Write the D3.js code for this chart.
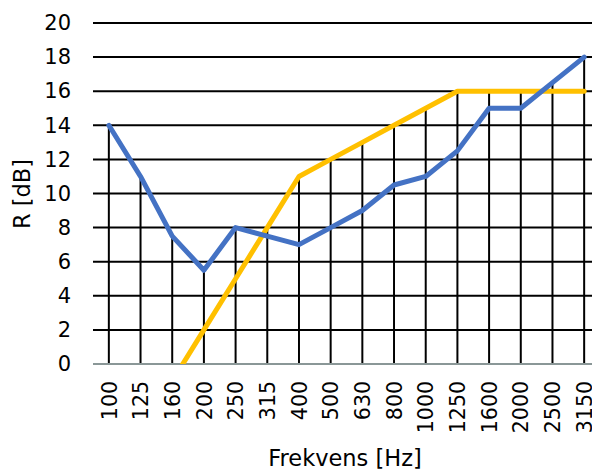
<!DOCTYPE html>
<html>
<head>
<meta charset="utf-8">
<script src="https://cdn.jsdelivr.net/npm/d3@7"></script>
<style>
  body { margin: 0; background: #fff; }
  text { font-family: "DejaVu Sans", Verdana, sans-serif; fill: #000; }
</style>
</head>
<body>
<script>
let freqs = ["100","125","160","200","250","315","400","500","630","800","1000","1250","1600","2000","2500","3150"]
let measured = [14, 11, 7.5, 5.5, 8, 7.5, 7, 8, 9, 10.5, 11, 12.5, 15, 15, 16.5, 18]
let reference = [null, null, -1, 2, 5, 8, 11, 12, 13, 14, 15, 16, 16, 16, 16, 16]
let yTicks = [0, 2, 4, 6, 8, 10, 12, 14, 16, 18, 20]

let W = 592, H = 470
let plotL = 93, plotR = 600, plotT = 23, plotB = 364

let svg = d3.select("body").append("svg").attr("width", W).attr("height", H)

let x = d3.scalePoint().domain(freqs).range([plotL, plotR]).padding(0.5)
let y = d3.scaleLinear().domain([0, 20]).range([plotB, plotT])

svg.append("defs").append("clipPath").attr("id", "plot")
  .append("rect").attr("x", plotL).attr("y", plotT - 10).attr("width", plotR - plotL).attr("height", plotB - plotT + 10)

// horizontal gridlines
svg.append("g").selectAll("line")
  .data(yTicks.filter(d => d > 0))
  .join("line")
  .attr("x1", plotL).attr("x2", plotR)
  .attr("y1", d => y(d)).attr("y2", d => y(d))
  .attr("stroke", "#000").attr("stroke-width", 2)

// drop lines from the highest point down to the axis
svg.append("g").selectAll("line")
  .data(freqs)
  .join("line")
  .attr("x1", d => x(d)).attr("x2", d => x(d))
  .attr("y1", (d, i) => y(Math.max(measured[i], reference[i] == null ? -Infinity : reference[i])))
  .attr("y2", plotB)
  .attr("stroke", "#000").attr("stroke-width", 2)

// x axis line
svg.append("line")
  .attr("x1", plotL).attr("x2", plotR)
  .attr("y1", plotB).attr("y2", plotB)
  .attr("stroke", "#8a9797").attr("stroke-width", 2)

let line = d3.line()
  .defined(d => d != null)
  .x((d, i) => x(freqs[i]))
  .y(d => y(d))

let lines = svg.append("g").attr("clip-path", "url(#plot)")
lines.append("path").datum(reference)
  .attr("d", line).attr("fill", "none")
  .attr("stroke", "#FFC000").attr("stroke-width", 5)
  .attr("stroke-linecap", "round").attr("stroke-linejoin", "round")
lines.append("path").datum(measured)
  .attr("d", line).attr("fill", "none")
  .attr("stroke", "#4472C4").attr("stroke-width", 5)
  .attr("stroke-linecap", "round").attr("stroke-linejoin", "round")

// y axis labels
let yAxis = svg.append("g").attr("transform", "translate(71,0)")
  .call(d3.axisLeft(y).tickValues(yTicks).tickSize(0).tickPadding(0))
yAxis.select(".domain").remove()
yAxis.selectAll("text").style("font-size", "21px").style("font-family", "DejaVu Sans, Verdana, sans-serif")

// x axis labels
let xAxis = svg.append("g").attr("transform", "translate(0," + plotB + ")")
  .call(d3.axisBottom(x).tickSize(0).tickPadding(0))
xAxis.select(".domain").remove()
xAxis.selectAll("text")
  .style("font-size", "20.5px").style("font-family", "DejaVu Sans, Verdana, sans-serif")
  .attr("text-anchor", "end")
  .attr("transform", "translate(0,17) rotate(-90)")
  .attr("x", 0).attr("y", 0).attr("dy", "0.35em")

svg.append("text")
  .attr("x", 345).attr("y", 466)
  .attr("text-anchor", "middle")
  .style("font-size", "22.5px")
  .text("Frekvens [Hz]")

svg.append("text")
  .attr("transform", "translate(30,194) rotate(-90)")
  .attr("text-anchor", "middle")
  .style("font-size", "22.5px")
  .text("R [dB]")
</script>
</body>
</html>
